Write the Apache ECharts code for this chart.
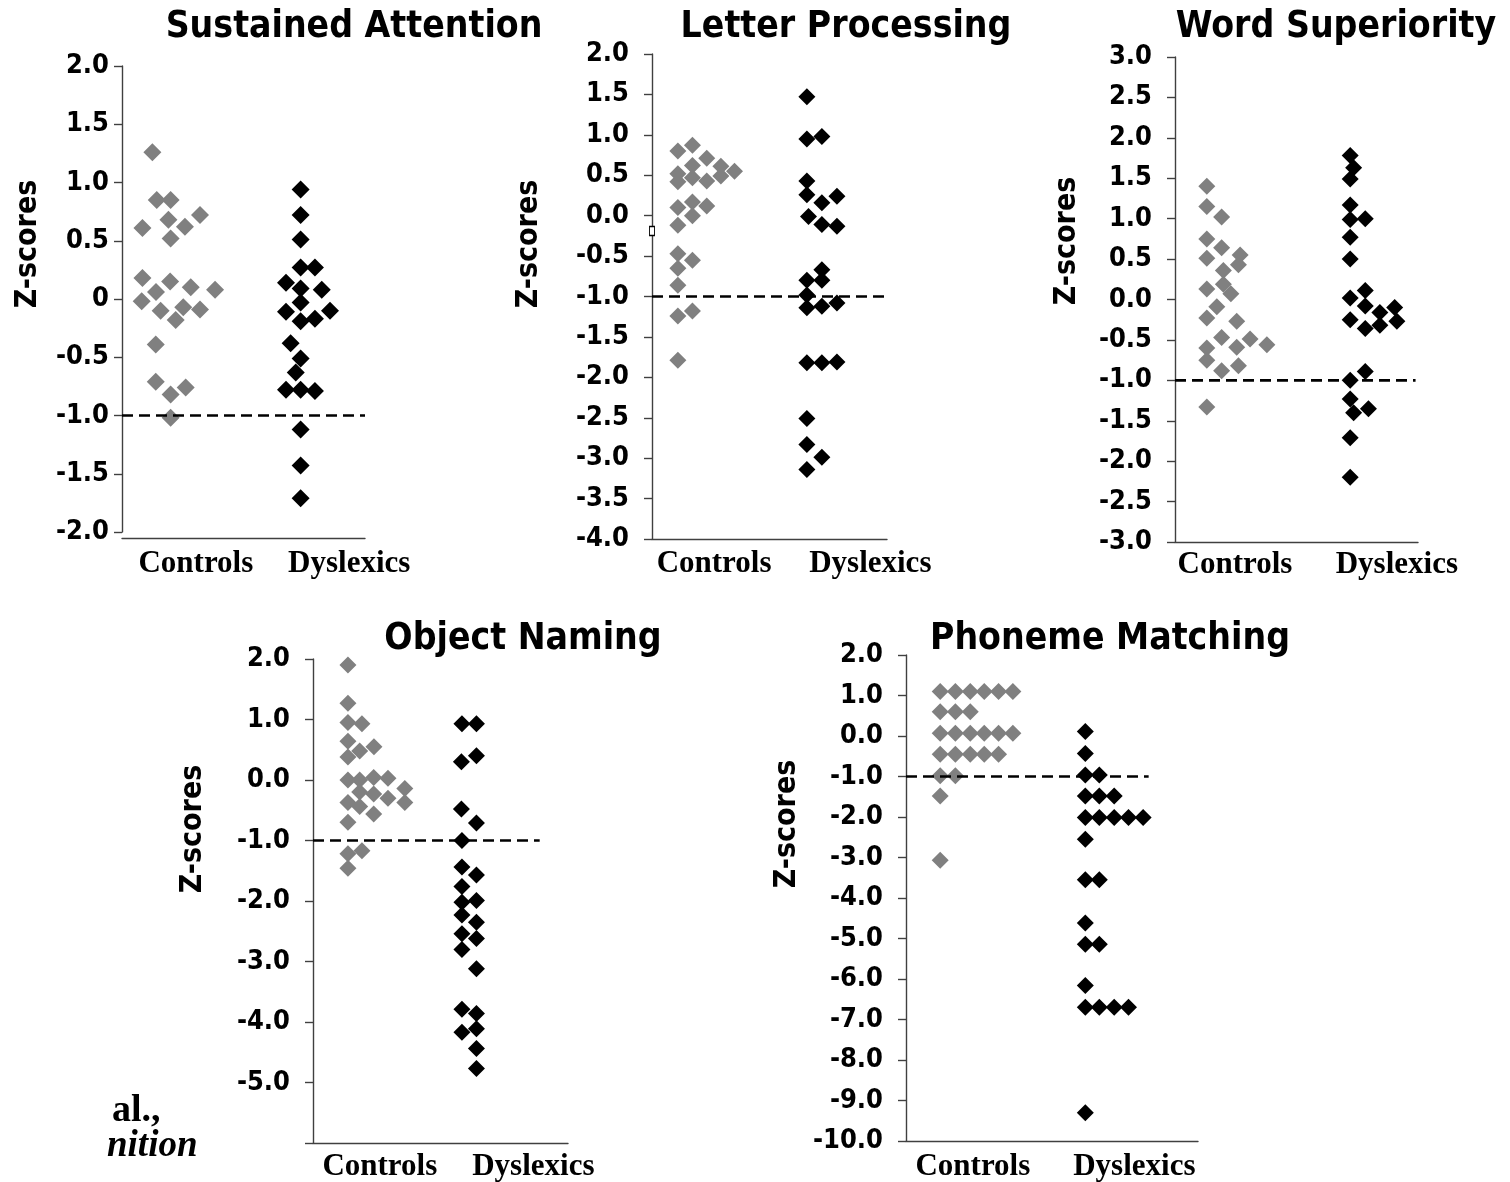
<!DOCTYPE html>
<html>
<head>
<meta charset="utf-8">
<script src="https://cdn.jsdelivr.net/npm/echarts@6/dist/echarts.min.js"></script>
<style>
html,body{margin:0;padding:0;background:#fff;}
#chart{width:1510px;height:1182px;}
</style>
</head>
<body>
<div id="chart"></div>
<script>
// ---------- DATA ----------
// Each point: [horizontal position along the x axis (0-100), z-score]
const panelTitles = ["Sustained Attention", "Letter Processing", "Word Superiority", "Object Naming", "Phoneme Matching"];
const groupNames = ["Controls", "Dyslexics"];
const yAxisName = "Z-scores";
const cutoff = -1.0;

const sustainedControls = [[12.5,1.26],[14.3,0.85],[20.0,0.85],[19.1,0.68],[32.1,0.72],[8.4,0.61],[25.9,0.62],[20.0,0.52],[8.4,0.18],[19.8,0.15],[28.3,0.10],[38.3,0.08],[14.0,0.06],[8.1,-0.02],[15.9,-0.10],[25.2,-0.07],[32.1,-0.09],[22.1,-0.18],[13.9,-0.39],[13.9,-0.71],[26.2,-0.76],[20.0,-0.82],[20.0,-1.02]];
const sustainedDyslexics = [[73.5,0.94],[73.5,0.72],[73.5,0.51],[73.5,0.27],[79.4,0.27],[67.5,0.14],[73.5,0.09],[82.2,0.08],[73.5,-0.03],[67.5,-0.11],[85.6,-0.10],[73.5,-0.19],[79.4,-0.17],[69.4,-0.38],[73.5,-0.51],[71.5,-0.63],[67.5,-0.78],[73.5,-0.78],[79.4,-0.79],[73.5,-1.12],[73.5,-1.43],[73.5,-1.71]];

const letterControls = [[11.0,0.80],[17.2,0.87],[23.3,0.71],[17.2,0.62],[29.3,0.61],[35.1,0.55],[11.0,0.52],[11.0,0.42],[17.2,0.47],[23.3,0.43],[29.3,0.49],[11.0,0.10],[17.2,0.17],[23.3,0.12],[17.2,0.00],[11.0,-0.12],[11.0,-0.47],[17.2,-0.55],[11.0,-0.65],[11.0,-0.86],[11.0,-1.24],[17.2,-1.18],[11.0,-1.79]];
const letterDyslexics = [[65.9,1.47],[65.9,0.95],[72.3,0.98],[65.9,0.43],[65.9,0.26],[72.3,0.16],[78.7,0.24],[66.6,-0.01],[72.3,-0.11],[78.7,-0.13],[72.3,-0.67],[65.9,-0.80],[72.3,-0.80],[65.9,-0.98],[65.9,-1.14],[72.3,-1.12],[78.7,-1.08],[65.9,-1.82],[72.3,-1.82],[78.7,-1.81],[65.9,-2.51],[65.9,-2.83],[72.3,-2.99],[65.9,-3.14]];
const letterStray = [[0,-0.19]];

const wordControls = [[13.1,1.40],[13.1,1.15],[19.2,1.02],[13.1,0.75],[19.2,0.64],[26.8,0.55],[26.1,0.43],[13.1,0.51],[19.9,0.36],[19.9,0.19],[23.0,0.07],[13.1,0.13],[17.2,-0.09],[13.1,-0.23],[25.4,-0.27],[19.2,-0.47],[30.9,-0.49],[37.8,-0.56],[13.1,-0.60],[25.4,-0.59],[13.1,-0.75],[26.1,-0.82],[19.2,-0.88],[13.1,-1.33]];
const wordDyslexics = [[72.1,1.78],[73.5,1.63],[72.1,1.49],[72.1,1.17],[72.1,0.99],[78.3,1.00],[72.1,0.77],[72.1,0.50],[78.3,0.11],[72.1,0.02],[78.3,-0.08],[90.4,-0.10],[84.3,-0.16],[72.1,-0.25],[91.3,-0.27],[84.3,-0.32],[78.3,-0.36],[78.3,-0.89],[72.1,-1.00],[72.1,-1.23],[73.5,-1.40],[79.6,-1.35],[72.1,-1.71],[72.1,-2.20]];

const namingControls = [[13.7,1.90],[13.7,1.27],[13.7,0.95],[19.2,0.93],[13.7,0.64],[23.9,0.55],[18.3,0.48],[13.7,0.38],[13.7,0.00],[18.3,0.00],[23.8,0.04],[29.4,0.03],[36.0,-0.14],[18.3,-0.20],[23.8,-0.23],[29.4,-0.30],[13.7,-0.37],[36.0,-0.37],[18.3,-0.44],[23.8,-0.56],[13.7,-0.70],[19.2,-1.17],[13.7,-1.22],[13.7,-1.46]];
const namingDyslexics = [[58.4,0.93],[64.1,0.93],[58.2,0.30],[64.1,0.40],[58.2,-0.48],[64.1,-0.71],[58.4,-1.00],[58.4,-1.44],[64.1,-1.57],[58.4,-1.76],[58.4,-2.02],[64.1,-1.99],[58.4,-2.23],[64.1,-2.35],[58.4,-2.54],[64.1,-2.62],[58.4,-2.80],[64.1,-3.12],[58.4,-3.79],[64.1,-3.86],[58.4,-4.17],[64.1,-4.11],[64.1,-4.44],[64.1,-4.77]];

const phonemeControls = [[11.7,1.10],[16.9,1.10],[22.0,1.10],[26.8,1.10],[31.7,1.10],[36.6,1.10],[11.7,0.60],[16.9,0.60],[22.0,0.60],[11.7,0.07],[16.9,0.07],[22.0,0.07],[26.8,0.07],[31.7,0.07],[36.6,0.07],[11.7,-0.45],[16.9,-0.45],[22.0,-0.45],[26.8,-0.45],[31.7,-0.45],[11.7,-0.98],[16.9,-0.98],[11.7,-1.48],[11.7,-3.07]];
const phonemeDyslexics = [[61.4,0.11],[61.4,-0.43],[61.4,-0.96],[66.2,-0.96],[61.4,-1.48],[66.2,-1.48],[71.3,-1.48],[61.4,-2.01],[66.2,-2.01],[71.3,-2.01],[76.2,-2.01],[81.2,-2.01],[61.4,-2.55],[61.4,-3.55],[66.2,-3.55],[61.4,-4.62],[61.4,-5.14],[66.2,-5.14],[61.4,-6.16],[61.4,-6.70],[66.2,-6.70],[71.3,-6.70],[76.2,-6.70],[61.4,-9.30]];

// y-axis ranges per panel [min, max, interval]
const yRanges = [[-2,2,0.5],[-4,2,0.5],[-3,3,0.5],[-6,2,1],[-10,2,1]];
// positions of the group labels along each x axis (0-100)
const groupLabelPos = [[30.4,93.5],[26.4,92.9],[24.7,91.3],[26.2,86.4],[22.9,78.2]];
// extent of the dashed cut-off line along each x axis (0-100)
const cutoffEnd = [100,100,99,88.9,83.1];

const controlsData = [sustainedControls, letterControls, wordControls, namingControls, phonemeControls];
const dyslexicsData = [sustainedDyslexics, letterDyslexics, wordDyslexics, namingDyslexics, phonemeDyslexics];

// ---------- LAYOUT ----------
const grids = [
  {left:122, top:66, width:243, height:466},
  {left:652, top:54, width:235, height:485},
  {left:1175, top:57, width:243, height:485},
  {left:313, top:659, width:255, height:485},
  {left:906, top:655, width:292, height:486}
];
const xAxisOffset = [6,0,0,0,0];
const labelMargin = [13,23,23,23,23];
const symSize = [18,17,17,17,17];
const xLabelMargin = [10,9,7,8,10];
const titlePos = [[354,27],[846,27],[1336,27],[523,639],[1110,639]];
const yNamePos = [[28,244],[529,244],[1067,241],[193,829],[787,824]];

const TICK_FONT = '"DejaVu Sans Condensed", "DejaVu Sans", sans-serif';
const SERIF = '"Liberation Serif", "Times New Roman", serif';
const AXIS_COLOR = '#404040';

const xAxes = [], yAxes = [], series = [], graphics = [];
for (let i = 0; i < 5; i++) {
  const [mn, mx, iv] = yRanges[i];
  xAxes.push({
    gridIndex: i, type: 'value', min: 0, max: 100,
    offset: xAxisOffset[i],
    axisLine: {show: true, onZero: false, lineStyle: {color: AXIS_COLOR, width: 1.4}},
    axisTick: {show: false},
    splitLine: {show: false},
    axisLabel: {
      show: true, customValues: groupLabelPos[i], margin: xLabelMargin[i],
      formatter: (v) => {
        const p = groupLabelPos[i];
        return Math.abs(v - p[0]) < 0.01 ? groupNames[0] : groupNames[1];
      },
      fontFamily: SERIF, fontWeight: 'bold', fontSize: 31, color: '#000'
    }
  });
  yAxes.push({
    gridIndex: i, type: 'value', min: mn, max: mx, interval: iv,
    axisLine: {show: true, lineStyle: {color: AXIS_COLOR, width: 1.4}},
    axisTick: {show: true, length: 8, lineStyle: {color: AXIS_COLOR, width: 1.4}},
    splitLine: {show: false},
    axisLabel: {
      margin: labelMargin[i], fontFamily: TICK_FONT, fontWeight: 'bold', fontSize: 27, color: '#000',
      formatter: (v) => {
        if (i === 3 && v === -6) return '';
        if (i === 0 && v === 0) return '0';
        return v.toFixed(1);
      }
    }
  });
  series.push({
    type: 'scatter', xAxisIndex: i, yAxisIndex: i, data: controlsData[i],
    symbol: 'diamond', symbolSize: symSize[i], itemStyle: {color: '#808080', opacity: 1}, z: 3, silent: true
  });
  series.push({
    type: 'scatter', xAxisIndex: i, yAxisIndex: i, data: dyslexicsData[i],
    symbol: 'diamond', symbolSize: symSize[i], itemStyle: {color: '#000', opacity: 1}, z: 4, silent: true
  });
  series.push({
    type: 'line', xAxisIndex: i, yAxisIndex: i,
    data: [[0, cutoff], [cutoffEnd[i], cutoff]],
    symbol: 'none', lineStyle: {color: '#000', width: 2.6, type: [11, 6]}, z: 5, silent: true
  });
  graphics.push({
    type: 'text', x: titlePos[i][0], y: titlePos[i][1],
    style: {text: panelTitles[i], fontFamily: TICK_FONT, fontWeight: 'bold', fontSize: 37,
      fill: '#000', align: 'center', verticalAlign: 'middle'}
  });
  graphics.push({
    type: 'text', x: yNamePos[i][0], y: yNamePos[i][1], rotation: Math.PI / 2,
    style: {text: yAxisName, fontFamily: TICK_FONT, fontWeight: 'bold', fontSize: 30,
      fill: '#000', align: 'center', verticalAlign: 'middle'}
  });
}
// small stray marker on the Letter Processing axis
series.push({
  type: 'scatter', xAxisIndex: 1, yAxisIndex: 1, data: letterStray,
  symbol: 'rect', symbolSize: [5, 9], itemStyle: {color: '#fff', borderColor: '#000', borderWidth: 1.2, opacity: 1}, z: 6, silent: true
});
// cut-off citation fragments at the lower-left edge
graphics.push({type:'text', x: 112, y: 1111, style:{text:'al.,', fontFamily: SERIF, fontWeight:'bold', fontSize: 38, fill:'#000', align:'left', verticalAlign:'middle'}});
graphics.push({type:'text', x: 107, y: 1146, style:{text:'nition', fontFamily: SERIF, fontWeight:'bold', fontStyle:'italic', fontSize: 37, fill:'#000', align:'left', verticalAlign:'middle'}});

const chart = echarts.init(document.getElementById('chart'), null, {renderer: 'canvas'});
chart.setOption({
  animation: false,
  backgroundColor: '#fff',
  grid: grids.map(g => Object.assign({containLabel: false}, g)),
  xAxis: xAxes,
  yAxis: yAxes,
  series: series,
  graphic: graphics
});
</script>
</body>
</html>
